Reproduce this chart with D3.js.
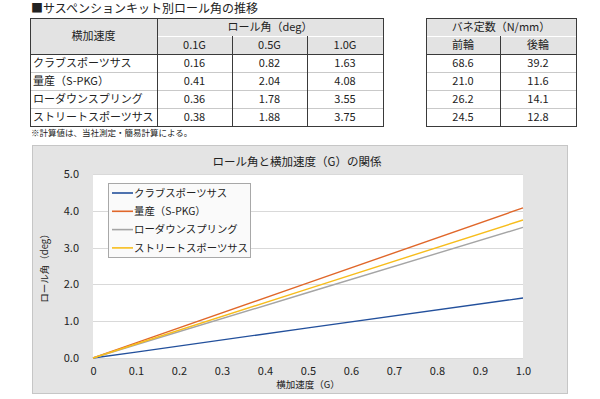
<!doctype html>
<html>
<head>
    <meta charset="utf-8">
    <title>ロール角と横加速度</title>
    <style>
        body {
            margin: 0;
            padding: 0;
            background: #fff;
        }
        svg text {
            font-family: "Noto Sans CJK JP", "Noto Sans", sans-serif;
            fill: #222;
        }
    </style>
</head>
<body>
    <svg id="chart" width="600" height="399"></svg>

    <script src="https://d3js.org/d3.v7.min.js"></script>
    <script>
        // data
        var seriesNames = ["クラブスポーツサス", "量産（S-PKG）", "ローダウンスプリング", "ストリートスポーツサス"];
        var gLabels = ["0.1G", "0.5G", "1.0G"];
        var gValues = [0.1, 0.5, 1.0];
        var clubSport = [0.16, 0.82, 1.63];
        var stock = [0.41, 2.04, 4.08];
        var lowDown = [0.36, 1.78, 3.55];
        var streetSport = [0.38, 1.88, 3.75];
        var springFront = [68.6, 21.0, 26.2, 24.5];
        var springRear = [39.2, 11.6, 14.1, 12.8];
        var xTicks = [0, 0.1, 0.2, 0.3, 0.4, 0.5, 0.6, 0.7, 0.8, 0.9, 1.0];
        var yTicks = [0, 1, 2, 3, 4, 5];

        var rollValues = [clubSport, stock, lowDown, streetSport];
        var colors = ["#23509c", "#e0672a", "#a5a5a5", "#f7bd1c"];

        var svg = d3.select("#chart");

        // ---- heading ----
        svg.append("text")
            .attr("x", 31)
            .attr("y", 9)
            .attr("dy", "0.36em")
            .style("font-size", "12px")
            .text("■サスペンションキット別ロール角の推移");

        // ---- tables ----
        var rowY = [18, 36, 54, 72, 90, 108, 126];
        var headFill = "#e3e3e3";
        var dark = "#3a3a3a";
        var light = "#c9c9c9";

        function cell(x0, x1, y0, y1, fill) {
            svg.append("rect")
                .attr("x", x0).attr("y", y0)
                .attr("width", x1 - x0).attr("height", y1 - y0)
                .attr("fill", fill);
        }
        function hline(x0, x1, y, c) {
            svg.append("line").attr("x1", x0).attr("x2", x1)
                .attr("y1", y + 0.5).attr("y2", y + 0.5)
                .attr("stroke", c).attr("stroke-width", 1);
        }
        function vline(x, y0, y1, c) {
            svg.append("line").attr("x1", x + 0.5).attr("x2", x + 0.5)
                .attr("y1", y0).attr("y2", y1)
                .attr("stroke", c).attr("stroke-width", 1);
        }
        function label(x, y, txt, anchor) {
            svg.append("text")
                .attr("x", x).attr("y", y)
                .attr("dy", "0.36em")
                .attr("text-anchor", anchor || "middle")
                .style("font-size", "11px")
                .text(txt);
        }

        // table 1
        var t1 = [30, 157, 232, 307, 383];
        cell(t1[0], t1[4], rowY[0], rowY[2], headFill);
        cell(t1[0], t1[4], rowY[2], rowY[6], "#fff");
        hline(t1[1], t1[4], rowY[1], "#fff");
        for (var r = 3; r < 6; r++) hline(t1[0], t1[4], rowY[r], light);
        hline(t1[0], t1[4], rowY[2], dark);
        vline(t1[1], rowY[0], rowY[6], dark);
        vline(t1[2], rowY[1], rowY[6], dark);
        vline(t1[3], rowY[1], rowY[6], dark);
        svg.append("rect").attr("x", t1[0] + 0.5).attr("y", rowY[0] + 0.5)
            .attr("width", t1[4] - t1[0]).attr("height", rowY[6] - rowY[0])
            .attr("fill", "none").attr("stroke", dark);

        label((t1[0] + t1[1]) / 2, (rowY[0] + rowY[2]) / 2, "横加速度");
        label((t1[1] + t1[4]) / 2, (rowY[0] + rowY[1]) / 2, "ロール角（deg）");
        gLabels.forEach(function(g, i) {
            label((t1[i + 1] + t1[i + 2]) / 2, (rowY[1] + rowY[2]) / 2, g);
        });
        seriesNames.forEach(function(name, r) {
            var cy = (rowY[r + 2] + rowY[r + 3]) / 2;
            label(t1[0] + 3, cy, name, "start");
            rollValues[r].forEach(function(v, i) {
                label((t1[i + 1] + t1[i + 2]) / 2, cy, d3.format(".2f")(v));
            });
        });

        // table 2
        var t2 = [426, 500, 576];
        cell(t2[0], t2[2], rowY[0], rowY[2], headFill);
        cell(t2[0], t2[2], rowY[2], rowY[6], "#fff");
        hline(t2[0], t2[2], rowY[1], "#fff");
        for (var r2 = 3; r2 < 6; r2++) hline(t2[0], t2[2], rowY[r2], light);
        hline(t2[0], t2[2], rowY[2], dark);
        vline(t2[1], rowY[1], rowY[6], dark);
        svg.append("rect").attr("x", t2[0] + 0.5).attr("y", rowY[0] + 0.5)
            .attr("width", t2[2] - t2[0]).attr("height", rowY[6] - rowY[0])
            .attr("fill", "none").attr("stroke", dark);

        label((t2[0] + t2[2]) / 2, (rowY[0] + rowY[1]) / 2, "バネ定数（N/mm）");
        label((t2[0] + t2[1]) / 2, (rowY[1] + rowY[2]) / 2, "前輪");
        label((t2[1] + t2[2]) / 2, (rowY[1] + rowY[2]) / 2, "後輪");
        springFront.forEach(function(v, r) {
            var cy = (rowY[r + 2] + rowY[r + 3]) / 2;
            label((t2[0] + t2[1]) / 2, cy, d3.format(".1f")(v));
            label((t2[1] + t2[2]) / 2, cy, d3.format(".1f")(springRear[r]));
        });

        svg.append("text")
            .attr("x", 31)
            .attr("y", 133)
            .attr("dy", "0.36em")
            .style("font-size", "8.5px")
            .text("※計算値は、当社測定・簡易計算による。");

        // ---- chart ----
        svg.append("rect")
            .attr("x", 32.5).attr("y", 145.5)
            .attr("width", 535).attr("height", 248)
            .attr("fill", "#e4e4e4")
            .attr("stroke", "#c6c6c6");

        svg.append("text")
            .attr("x", 297)
            .attr("y", 162)
            .attr("dy", "0.36em")
            .attr("text-anchor", "middle")
            .style("font-size", "11.5px")
            .text("ロール角と横加速度（G）の関係");

        var plot = {left: 93, right: 523, top: 174, bottom: 358};

        var x = d3.scaleLinear().domain([0, 1]).range([plot.left, plot.right]);
        var y = d3.scaleLinear().domain([0, 5]).range([plot.bottom, plot.top]);

        svg.append("rect")
            .attr("x", plot.left).attr("y", plot.top)
            .attr("width", plot.right - plot.left)
            .attr("height", plot.bottom - plot.top)
            .attr("fill", "#fff");

        svg.append("g")
            .selectAll("line")
            .data(yTicks)
            .enter().append("line")
            .attr("x1", plot.left).attr("x2", plot.right)
            .attr("y1", function(d) { return Math.round(y(d)) + 0.5; })
            .attr("y2", function(d) { return Math.round(y(d)) + 0.5; })
            .attr("stroke", "#d9d9d9");

        var yAxis = svg.append("g")
            .attr("transform", "translate(" + (plot.left - 14) + ",0)")
            .call(d3.axisLeft(y).tickValues(yTicks).tickFormat(d3.format(".1f")).tickSize(0).tickPadding(0));
        yAxis.select(".domain").remove();
        yAxis.selectAll("text").style("font-size", "11px").attr("fill", "#222");

        var xAxis = svg.append("g")
            .attr("transform", "translate(0," + (plot.bottom + 9) + ")")
            .call(d3.axisBottom(x).tickValues(xTicks)
                .tickFormat(function(d) { return d === 0 ? "0" : d3.format(".1f")(d); })
                .tickSize(0).tickPadding(0));
        xAxis.select(".domain").remove();
        xAxis.selectAll("text").style("font-size", "11px").attr("fill", "#222");

        svg.append("text")
            .attr("x", (plot.left + plot.right) / 2)
            .attr("y", 385)
            .attr("dy", "0.36em")
            .attr("text-anchor", "middle")
            .style("font-size", "9.5px")
            .text("横加速度（G）");

        svg.append("text")
            .attr("transform", "translate(45," + ((plot.top + plot.bottom) / 2) + ") rotate(-90)")
            .attr("dy", "0.36em")
            .attr("text-anchor", "middle")
            .style("font-size", "9.5px")
            .text("ロール角（deg）");

        var line = d3.line()
            .x(function(d) { return x(d[0]); })
            .y(function(d) { return y(d[1]); });

        rollValues.forEach(function(vals, i) {
            var pts = [[0, 0]].concat(gValues.map(function(g, j) { return [g, vals[j]]; }));
            svg.append("path")
                .attr("d", line(pts))
                .attr("fill", "none")
                .attr("stroke", colors[i])
                .attr("stroke-width", 1.4);
        });

        // legend
        var legend = svg.append("g");
        legend.append("rect")
            .attr("x", 108.5).attr("y", 183.5)
            .attr("width", 142).attr("height", 74)
            .attr("fill", "#fafafa")
            .attr("stroke", "#a8a8a8");

        seriesNames.forEach(function(name, i) {
            var ly = 193 + i * 18.3;
            legend.append("line")
                .attr("x1", 112).attr("x2", 133)
                .attr("y1", ly).attr("y2", ly)
                .attr("stroke", colors[i])
                .attr("stroke-width", 1.6);
            legend.append("text")
                .attr("x", 134)
                .attr("y", ly)
                .attr("dy", "0.36em")
                .style("font-size", "10.4px")
                .text(name);
        });
    </script>
</body>
</html>
